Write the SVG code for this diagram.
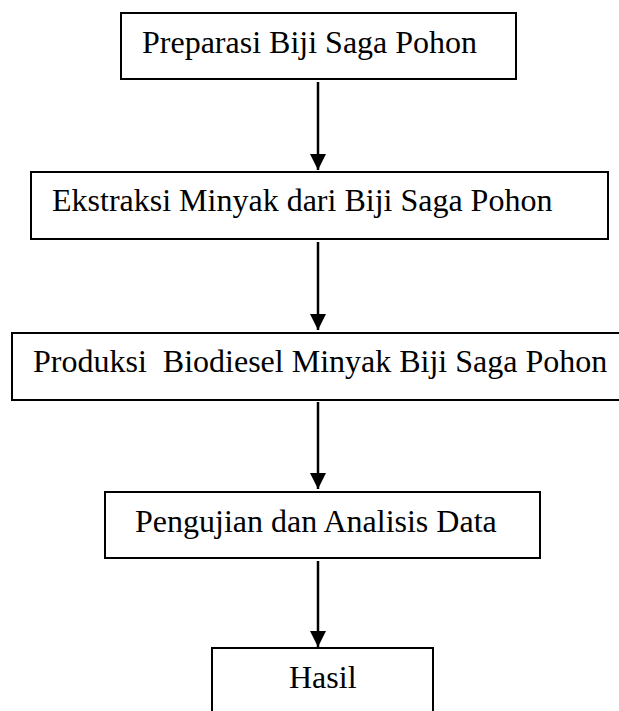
<svg xmlns="http://www.w3.org/2000/svg" width="619" height="711" viewBox="0 0 619 711">
<defs>
<style>
.box{fill:#fff;stroke:#000;stroke-width:2}
.lbl{font-family:"Liberation Serif","Times New Roman",serif;font-size:32px;fill:#000}
.conn{stroke:#000;stroke-width:2.5;fill:none}
</style>
<marker id="ah" viewBox="0 0 16 16" refX="16" refY="8" markerWidth="16" markerHeight="16" markerUnits="userSpaceOnUse" orient="auto">
<path d="M0,0 L16,8 L0,16 Z" fill="#000"/>
</marker>
</defs>
<rect width="619" height="711" fill="#fff"/>
<g id="n1"><rect class="box" x="121" y="13" width="395" height="66"/><text class="lbl" x="142" y="53">Preparasi Biji Saga Pohon</text></g>
<g id="n2"><rect class="box" x="31" y="172" width="577" height="67"/><text class="lbl" x="52" y="211">Ekstraksi Minyak dari Biji Saga Pohon</text></g>
<g id="n3"><rect class="box" x="12" y="333" width="630" height="67"/><text class="lbl" x="33" y="372" xml:space="preserve">Produksi  Biodiesel Minyak Biji Saga Pohon</text></g>
<g id="n4"><rect class="box" x="105" y="492" width="435" height="66"/><text class="lbl" x="135" y="532">Pengujian dan Analisis Data</text></g>
<g id="n5"><rect class="box" x="212" y="648" width="221" height="80"/><text class="lbl" x="289" y="688">Hasil</text></g>
<g id="connectors">
<line class="conn" x1="318" y1="82" x2="318" y2="170" marker-end="url(#ah)"/>
<line class="conn" x1="318" y1="242" x2="318" y2="330" marker-end="url(#ah)"/>
<line class="conn" x1="318" y1="402" x2="318" y2="489" marker-end="url(#ah)"/>
<line class="conn" x1="318" y1="561" x2="318" y2="647" marker-end="url(#ah)"/>
</g>
</svg>
